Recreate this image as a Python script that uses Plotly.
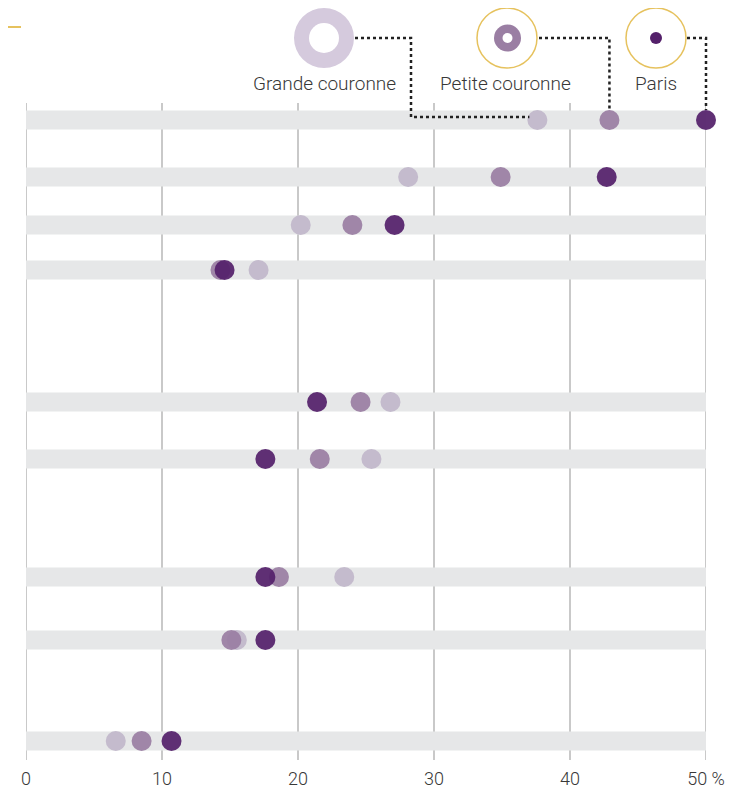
import plotly.graph_objects as go

# ---- data (values in %) ----
grande = [37.6, 28.1, 20.2, 17.1, 26.8, 25.4, 23.4, 15.5, 6.6]
petite = [42.9, 34.9, 24.0, 14.3, 24.6, 21.6, 18.6, 15.1, 8.5]
paris = [50.0, 42.7, 27.1, 14.6, 21.4, 17.6, 17.6, 17.6, 10.7]
tick_vals = [0, 10, 20, 30, 40, 50]
tick_text = ["0", "10", "20", "30", "40", "50 %"]
series_names = ["Grande couronne", "Petite couronne", "Paris"]

# ---- layout (page pixel geometry) ----
PAGE_W, PAGE_H = 747, 790
OFF = 8                        # default page body margin
W, H = PAGE_W - OFF, PAGE_H - OFF
X0, X1 = 26, 706               # plot area, page px
Y0, Y1 = 103, 760
row_y = [120, 177, 225, 270, 402, 459, 577, 640, 741]  # row centres (page px)
XMAX = 50

c_grande = "#c1b7ca"
c_petite = "#9a7ea3"
c_paris = "#54206a"
c_legend_grande = "#d5cadd"
gold = "#e6c25e"
band_col = "#e6e7e8"
grid_col = "rgba(150,150,150,0.65)"
txt = "#383838"
FONT = "Roboto"
WEIGHT = 300

def px_x(v):
    return X0 + v / XMAX * (X1 - X0)

def pap_x(px):
    return (px - X0) / (X1 - X0)

def pap_y(py):
    return (Y1 - py) / (Y1 - Y0)

fig = go.Figure()

for vals, col, name in [(grande, c_grande, series_names[0]),
                        (petite, c_petite, series_names[1]),
                        (paris, c_paris, series_names[2])]:
    fig.add_trace(go.Scatter(
        x=vals, y=row_y, mode="markers", name=name,
        marker=dict(size=20, color=col, opacity=0.93, line=dict(width=0)),
        showlegend=False, hoverinfo="x+name", cliponaxis=False))

shapes = []
for y in row_y:
    shapes.append(dict(type="rect", xref="x", yref="y", x0=0, x1=XMAX,
                       y0=y - 9.5, y1=y + 9.5, fillcolor=band_col,
                       line=dict(width=0), layer="below"))
for v in tick_vals:
    shapes.append(dict(type="line", xref="x", yref="paper", x0=v, x1=v,
                       y0=0, y1=1, line=dict(color=grid_col, width=1.6),
                       layer="below"))
shapes.append(dict(type="line", xref="paper", yref="paper",
                   x0=pap_x(0), x1=pap_x(21), y0=pap_y(27), y1=pap_y(27),
                   line=dict(color=gold, width=2)))

def circle(cx, cy, r, fill=None, line=None):
    d = dict(type="circle", xref="paper", yref="paper",
             x0=pap_x(cx - r), x1=pap_x(cx + r),
             y0=pap_y(cy + r), y1=pap_y(cy - r))
    d["fillcolor"] = fill if fill else "rgba(0,0,0,0)"
    d["line"] = line if line else dict(width=0)
    return d

LY = 38
shapes.append(circle(324, LY, 30, fill=c_legend_grande))
shapes.append(circle(324, LY, 15, fill="white"))
shapes.append(circle(507, LY, 30, line=dict(color=gold, width=1.5)))
shapes.append(circle(507.5, LY, 13.5, fill=c_petite))
shapes.append(circle(507.5, LY, 5, fill="white"))
shapes.append(circle(656, LY, 30, line=dict(color=gold, width=1.5)))
shapes.append(circle(656, LY, 6, fill=c_paris))

def path(points):
    s = "M " + " L ".join(f"{pap_x(x):.5f},{pap_y(y):.5f}" for x, y in points)
    return dict(type="path", xref="paper", yref="paper", path=s,
                line=dict(color="#222222", width=2.5, dash="dot"))

g1 = px_x(grande[0])
p1 = px_x(petite[0])
q1 = px_x(paris[0])
shapes.append(path([(355, LY), (411, LY), (411, 117), (g1 - 8, 117)]))
shapes.append(path([(539, LY), (p1, LY), (p1, row_y[0] - 10)]))
shapes.append(path([(687, LY), (q1, LY), (q1, row_y[0] - 10)]))

annotations = []
for name, cx in zip(series_names, [324, 505, 656]):
    annotations.append(dict(xref="paper", yref="paper", x=pap_x(cx), y=pap_y(83),
                            text=name, showarrow=False, xanchor="center",
                            yanchor="middle",
                            font=dict(family=FONT, size=19, color=txt,
                                      weight=WEIGHT)))

fig.update_layout(
    width=W, height=H,
    margin=dict(l=X0 - OFF, r=PAGE_W - X1, t=Y0 - OFF, b=PAGE_H - Y1, pad=0),
    paper_bgcolor="white", plot_bgcolor="white",
    shapes=shapes, annotations=annotations,
    xaxis=dict(range=[0, XMAX], tickvals=tick_vals, ticktext=tick_text,
               showgrid=False, zeroline=False, showline=False, ticks="",
               automargin=False, ticklabelstandoff=6,
               tickfont=dict(family=FONT, size=18, color=txt, weight=WEIGHT),
               fixedrange=True),
    yaxis=dict(range=[Y1, Y0], showgrid=False, zeroline=False,
               showticklabels=False, showline=False, ticks="",
               automargin=False, fixedrange=True),
    font=dict(family=FONT),
)

fig.write_html("out.html")
